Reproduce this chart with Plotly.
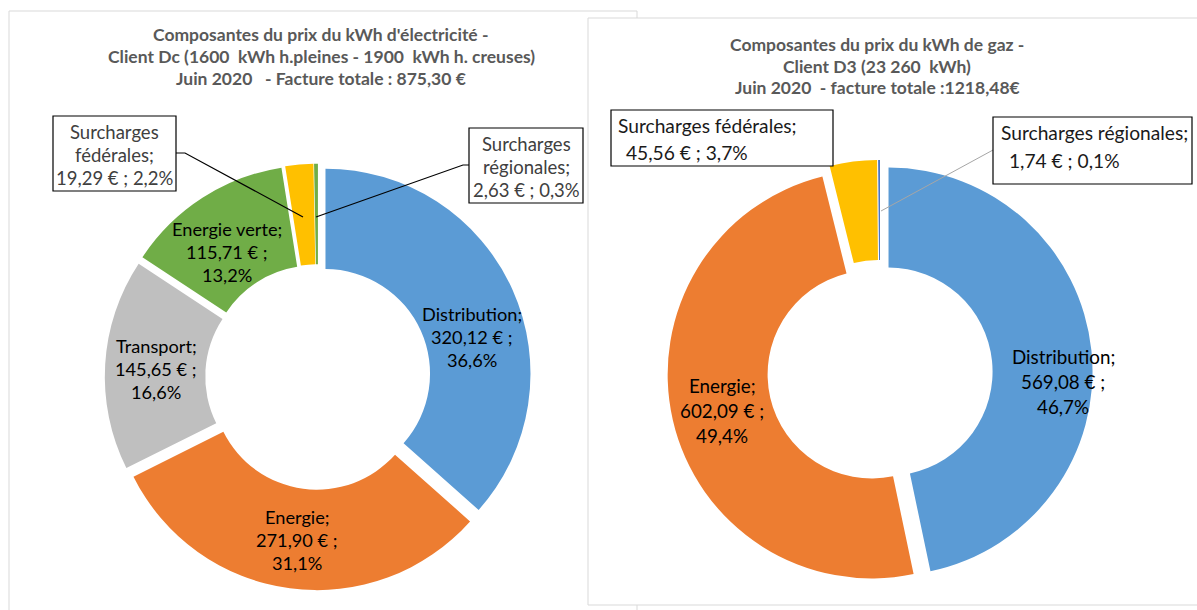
import plotly.graph_objects as go

W, H = 1197, 610

# ---------------- data ----------------
elec_labels = ["Distribution", "Energie", "Transport", "Energie verte",
               "Surcharges fédérales", "Surcharges régionales"]
elec_values = [320.12, 271.90, 145.65, 115.71, 19.29, 2.63]
elec_colors = ["#5B9BD5", "#ED7D31", "#BFBFBF", "#70AD47", "#FFC000", "#70AD47"]

gaz_labels = ["Distribution", "Energie", "Surcharges fédérales", "Surcharges régionales"]
gaz_values = [569.08, 602.09, 45.56, 1.74]
gaz_colors = ["#5B9BD5", "#ED7D31", "#FFC000", "#4472C4"]

elec_title = ["Composantes du prix du kWh d'électricité -",
              "Client Dc (1600  kWh h.pleines - 1900  kWh h. creuses)",
              "Juin 2020   - Facture totale : 875,30 €"]
gaz_title = ["Composantes du prix du kWh de gaz -",
             "Client D3 (23 260  kWh)",
             "Juin 2020  - facture totale :1218,48€"]

FONT = "Lato"


def fr(v, nd=2):
    return f"{v:.{nd}f}".replace(".", ",")


def px(x):
    return x / W


def py(y):
    return 1 - y / H


def pie_domain(cx, cy, r, pull):
    h = r * (1 + pull)
    return dict(x=[px(cx - h), px(cx + h)], y=[py(cy + h), py(cy - h)])


fig = go.Figure()

# left donut: centre (318, 377), r 205
fig.add_trace(go.Pie(
    labels=elec_labels, values=elec_values, sort=False, direction="clockwise",
    rotation=0, hole=0.51, pull=0.04, textinfo="none", hoverinfo="skip",
    marker=dict(colors=elec_colors, line=dict(width=0)),
    domain=pie_domain(318, 377, 205, 0.04), showlegend=False))

# right donut: centre (880, 372.5), r 204
fig.add_trace(go.Pie(
    labels=gaz_labels, values=gaz_values, sort=False, direction="clockwise",
    rotation=0, hole=0.51, pull=0.042, textinfo="none", hoverinfo="skip",
    marker=dict(colors=gaz_colors, line=dict(width=0)),
    domain=pie_domain(880, 372.5, 204, 0.042), showlegend=False))

shapes = []
annotations = []

# outer chart frames
shapes.append(dict(type="rect", xref="paper", yref="paper", layer="below",
                   x0=px(9), x1=px(637), y0=py(620), y1=py(11),
                   line=dict(color="#D9D9D9", width=1), fillcolor="white"))
shapes.append(dict(type="rect", xref="paper", yref="paper", layer="below",
                   x0=px(588), x1=px(1210), y0=py(605), y1=py(18),
                   line=dict(color="#D9D9D9", width=1), fillcolor="white"))


def text_lines(lines, x, y0, dy, size, color, anchor="center", bold=False):
    for i, t in enumerate(lines):
        annotations.append(dict(
            x=px(x), y=py(y0 + i * dy), xref="paper", yref="paper",
            text=f"<b>{t}</b>" if bold else t, showarrow=False,
            xanchor=anchor, yanchor="middle",
            font=dict(family=FONT, size=size, color=color)))


def slice_lines(labels, values, i):
    tot = sum(values)
    return [f"{labels[i]};", f"{fr(values[i])} € ;", f"{fr(values[i] / tot * 100, 1)}%"]


# titles
text_lines(elec_title, 321, 35, 22, 17.5, "#595959", bold=True)
text_lines(gaz_title, 877, 45, 21.5, 17.5, "#595959", bold=True)

# inner labels, left donut
elec_pos = [(472, 314), (297, 517), (156, 346), (227, 229)]
for i, (x, y) in enumerate(elec_pos):
    text_lines(slice_lines(elec_labels, elec_values, i), x, y, 23, 18.2, "#000000")

# inner labels, right donut
gaz_pos = [(1063, 356), (722, 385)]
for i, (x, y) in enumerate(gaz_pos):
    text_lines(slice_lines(gaz_labels, gaz_values, i), x, y, 25, 18.8, "#000000")


def box(x0, y0, x1, y1):
    shapes.append(dict(type="rect", xref="paper", yref="paper", layer="above",
                       x0=px(x0), x1=px(x1), y0=py(y1), y1=py(y0),
                       line=dict(color="#000000", width=1.2), fillcolor="white"))


def leader(points, color="#000000", width=1.2):
    path = "M " + " L ".join(f"{px(x)},{py(y)}" for x, y in points)
    shapes.append(dict(type="path", xref="paper", yref="paper", layer="above",
                       path=path, line=dict(color=color, width=width)))


def small(labels, values, i):
    tot = sum(values)
    return f"{fr(values[i])} € ; {fr(values[i] / tot * 100, 1)}%"


# left callouts
leader([(176, 153), (185, 153), (303, 217)])
box(53, 116, 176, 191)
text_lines(["Surcharges", "fédérales;", small(elec_labels, elec_values, 4)],
           114.5, 132, 23, 18.5, "#404040")

leader([(469, 165), (463, 165), (316, 217)])
box(469, 128, 583, 203)
text_lines(["Surcharges", "régionales;", small(elec_labels, elec_values, 5)],
           526, 144, 23, 18.5, "#404040")

# right callouts
box(611, 110, 833, 166)
text_lines(["Surcharges fédérales;"], 616, 126, 26, 19.2, "#1A1A1A", anchor="left")
text_lines([" " + small(gaz_labels, gaz_values, 2)], 619, 152, 26, 19.2, "#1A1A1A", anchor="left")

leader([(993, 150), (881, 211)], color="#A6A6A6", width=1)
box(993, 117, 1192, 184)
text_lines(["Surcharges régionales;"], 999, 133, 27, 19.2, "#1A1A1A", anchor="left")
text_lines([" " + small(gaz_labels, gaz_values, 3)], 1002, 160, 27, 19.2, "#1A1A1A", anchor="left")

fig.update_layout(
    width=W, height=H, margin=dict(l=0, r=0, t=0, b=0),
    paper_bgcolor="white", plot_bgcolor="white",
    shapes=shapes, annotations=annotations, showlegend=False,
    font=dict(family=FONT),
)

fig.write_html("out.html", config={"displayModeBar": False},
               post_script="document.body.style.margin='0';")
